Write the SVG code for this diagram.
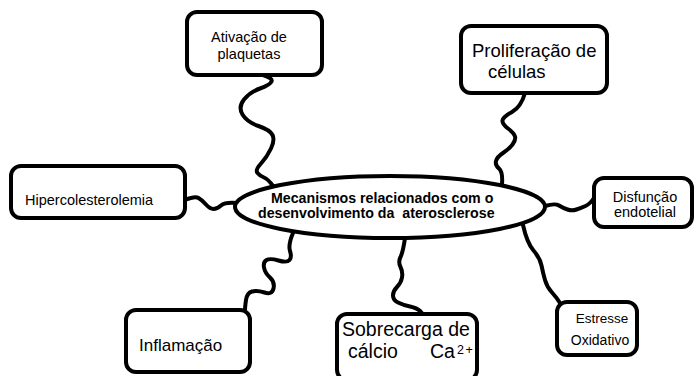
<svg xmlns="http://www.w3.org/2000/svg" width="696" height="376" viewBox="0 0 696 376">
<style>
.box{fill:#fff;stroke:#000;stroke-width:4}
.con{fill:none;stroke:#000;stroke-width:4;stroke-linecap:round;stroke-linejoin:round}
text{font-family:"Liberation Sans",Arial,sans-serif;fill:#000}
.b{font-weight:bold;font-size:14.2px}
</style>
<rect width="696" height="376" fill="#fff"/>
<g id="connectors">
<path class="con" d="M263,75 Q273,78 271.5,81.5 Q270,85 260,88.5 Q250,92 244,99.5 Q238,107 242.5,114.5 Q247,122 258.5,126 Q270,130 272.5,135 Q275,140 271,148.5 Q267,157 261,163.5 Q255,170 257.5,173 Q260,176 264,177.5 Q268,179 273,186"/>
<path class="con" d="M525,93 Q521,107 512,112 Q503,117 502.5,120.5 Q502,124 508,128.5 Q514,133 515,136.5 Q516,140 512.5,144.5 Q509,149 503,153 Q497,157 496,161 Q495,165 499,168.5 Q503,172 502,184"/>
<path class="con" d="M185,200 Q195,196 198.5,198 Q202,200 206,204.5 Q210,209 213.5,209 Q217,209 221,205.5 Q225,202 237,203"/>
<path class="con" d="M545,206 Q555,203 559,205.5 Q563,208 567.5,209.5 Q572,211 576.5,209.5 Q581,208 585.5,206 Q590,204 594,198"/>
<path class="con" d="M293,233 Q288,245 290,251 Q292,257 289.5,260 Q287,263 278.5,260.5 Q270,258 266.5,260 Q263,262 264,267.5 Q265,273 270,277.5 Q275,282 273.5,288.5 Q272,295 264.5,292.5 Q257,290 252,291.5 Q247,293 246,300 Q245,307 245,310"/>
<path class="con" d="M405,238 Q403,252 400.5,257 Q398,262 400.5,267 Q403,272 402,277.5 Q401,283 397,287 Q393,291 393,295.5 Q393,300 398,302.5 Q403,305 410,306.5 Q417,308 420,311 Q423,314 423,315"/>
<path class="con" d="M523,225 Q527,243 533.5,250.5 Q540,258 541.5,265.5 Q543,273 545,280 Q547,287 552,292.5 Q557,298 560,303"/>
</g>
<g id="center">
<ellipse cx="390" cy="207" rx="155" ry="31" fill="#fff" stroke="#000" stroke-width="4"/>
<text class="b" x="271" y="203">Mecanismos relacionados com o</text>
<text class="b" x="258" y="218" xml:space="preserve">desenvolvimento da  aterosclerose</text>
</g>
<g id="ativacao">
<rect class="box" x="187" y="12" width="135" height="63" rx="10"/>
<text x="249" y="42" font-size="14.5" text-anchor="middle">Ativação de</text>
<text x="249" y="59" font-size="14.5" text-anchor="middle">plaquetas</text>
</g>
<g id="proliferacao">
<rect class="box" x="461" y="26" width="146" height="67" rx="10"/>
<text x="472" y="57" font-size="18.5">Proliferação de</text>
<text x="488" y="78" font-size="18.5">células</text>
</g>
<g id="hipercolesterolemia">
<rect class="box" x="11" y="166" width="174" height="52" rx="10"/>
<text x="25" y="205" font-size="14.5">Hipercolesterolemia</text>
</g>
<g id="disfuncao">
<rect class="box" x="594" y="178" width="98" height="49" rx="10"/>
<text x="645" y="202" font-size="14.5" text-anchor="middle">Disfunção</text>
<text x="645" y="217" font-size="14.5" text-anchor="middle">endotelial</text>
</g>
<g id="inflamacao">
<rect class="box" x="126" y="310" width="124" height="62" rx="10"/>
<text x="139" y="351" font-size="17">Inflamação</text>
</g>
<g id="sobrecarga">
<rect class="box" x="337" y="314" width="140" height="66" rx="10"/>
<text x="342" y="336" font-size="19.5">Sobrecarga de</text>
<text x="348" y="358" font-size="19.5">cálcio</text>
<text x="430" y="358" font-size="19.5">Ca</text>
<text x="457" y="354" font-size="12.5" letter-spacing="1.5">2+</text>
</g>
<g id="estresse">
<rect class="box" x="557" y="302" width="80" height="53" rx="10"/>
<text x="602" y="323" font-size="13.5" text-anchor="middle">Estresse</text>
<text x="600" y="345" font-size="14" text-anchor="middle">Oxidativo</text>
</g>
</svg>
